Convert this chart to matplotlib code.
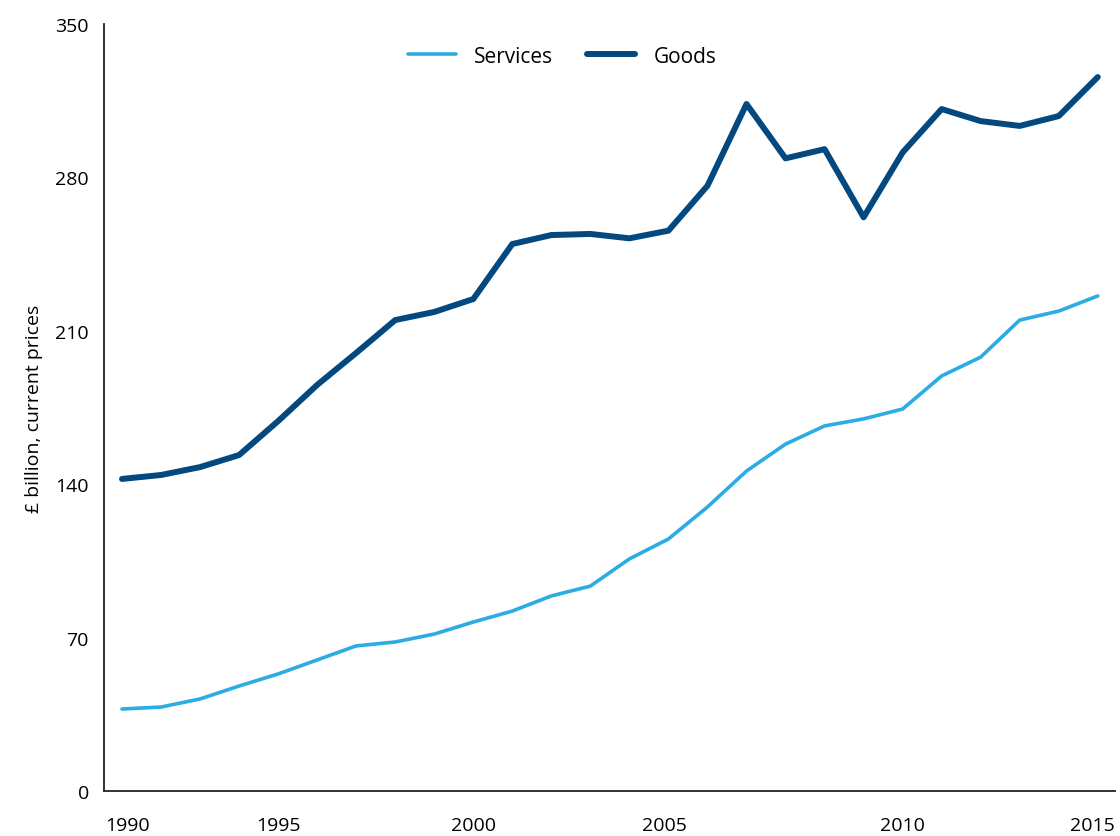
import matplotlib
matplotlib.use('Agg')
import matplotlib.pyplot as plt

years = list(range(1990, 2016))
services = [37.4, 38.3, 42.0, 47.9, 53.4, 59.8, 66.2, 68.0, 71.6, 77.1,
            82.1, 89.0, 93.5, 105.9, 115.0, 129.6, 146.0, 158.3, 166.6, 169.8,
            174.3, 189.4, 198.0, 214.9, 219.0, 225.9]
goods = [142.4, 144.2, 147.8, 153.3, 168.8, 185.3, 199.9, 214.9, 218.6, 224.5,
         249.6, 253.7, 254.2, 252.2, 255.7, 276.2, 313.5, 288.7, 292.9, 261.8,
         291.4, 311.2, 305.7, 303.5, 308.0, 325.8]
tick_labels = ['1990', '1995', '2000', '2005', '2010', '2015']
y_ticks = [0, 70, 140, 210, 280, 350]

plt.rcParams['font.family'] = ['Open Sans', 'DejaVu Sans']

fig = plt.figure(figsize=(11.2, 8.37), dpi=100)
ax = fig.add_axes([0.0929, 0.0538, 0.9026, 0.9163])

ax.plot(years, services, color='#2BACE2', lw=2.6, label='Services', solid_capstyle='round')
ax.plot(years, goods, color='#03487F', lw=4.3, label='Goods', solid_capstyle='round')

ax.set_xlim(1989.54, 2015.44)
ax.set_ylim(0, 350)
ax.set_yticks(y_ticks)
ax.set_yticklabels([str(v) for v in y_ticks])
# tick labels sit where the source chart put them
ax.set_xticks([1990.15, 1994.0, 1999.0, 2003.9, 2010.0, 2014.87])
ax.set_xticklabels(tick_labels)
ax.tick_params(axis='x', length=0, pad=18, labelsize=14)
ax.tick_params(axis='y', length=0, pad=11, labelsize=14)

for s in ['top', 'right']:
    ax.spines[s].set_visible(False)
for s in ['left', 'bottom']:
    ax.spines[s].set_linewidth(1.3)
    ax.spines[s].set_color('#222222')

ax.set_ylabel('£ billion, current prices', fontsize=14, labelpad=9)

ax.legend(loc='center', bbox_to_anchor=(0.453, 0.958), ncol=2, frameon=False,
          fontsize=15, handlelength=2.3, columnspacing=1.6, handletextpad=0.9)

fig.savefig('out.png', dpi=100)
